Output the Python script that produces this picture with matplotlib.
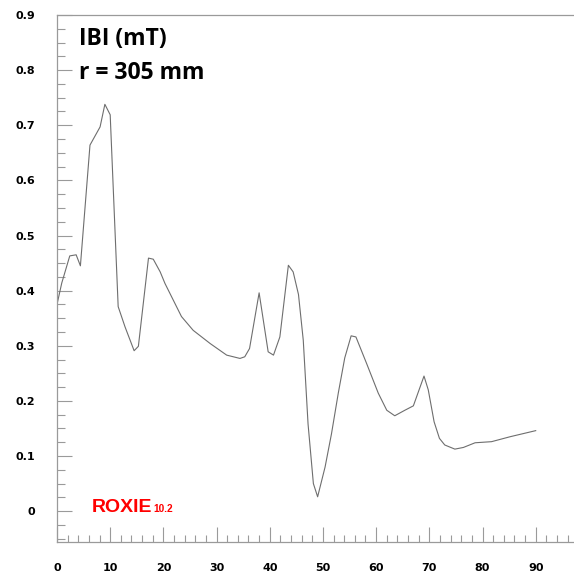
import numpy as np
import matplotlib
matplotlib.use("Agg")
import matplotlib.pyplot as plt
from matplotlib.ticker import MultipleLocator

# -----------------------------
# Data
# -----------------------------
angle = [0.0, 0.9, 2.4, 3.6, 4.4, 6.2, 8.1, 9.0, 10.0, 11.5, 12.8, 14.5, 15.3,
         17.2, 18.1, 19.4, 20.3, 23.4, 25.6, 28.8, 31.9, 34.4, 35.3, 36.2,
         38.0, 39.7, 40.7, 41.9, 43.5, 44.4, 45.4, 46.3, 47.2, 48.2, 49.0,
         50.4, 51.6, 52.9, 54.1, 55.3, 56.2, 58.2, 60.4, 62.0, 63.5, 65.4,
         67.0, 69.0, 69.8, 70.9, 71.9, 72.9, 74.8, 76.4, 78.6, 81.7, 85.2, 90.0]
ibi = [0.375, 0.414, 0.463, 0.465, 0.445, 0.664, 0.697, 0.738, 0.719, 0.371,
       0.334, 0.291, 0.299, 0.459, 0.457, 0.434, 0.413, 0.353, 0.328, 0.304,
       0.283, 0.277, 0.280, 0.295, 0.396, 0.289, 0.283, 0.316, 0.446, 0.434,
       0.393, 0.310, 0.158, 0.050, 0.026, 0.080, 0.140, 0.215, 0.278, 0.318,
       0.316, 0.268, 0.214, 0.183, 0.173, 0.183, 0.191, 0.245, 0.220, 0.162,
       0.132, 0.120, 0.1125, 0.1155, 0.124, 0.126, 0.135, 0.146]

title_lines = ["IBI (mT)", "r = 305 mm"]

# -----------------------------
# Plot
# -----------------------------
fig = plt.figure(figsize=(5.74, 5.75), dpi=100)
ax = fig.add_axes([57 / 574, 33 / 575, 1 - 57 / 574, (542 - 15) / 575])

ax.plot(angle, ibi, color="#6e6e6e", lw=0.8)

ax.set_xlim(0, 97.2)
ax.set_ylim(-0.056, 0.9)

ax.xaxis.set_major_locator(MultipleLocator(10))
ax.xaxis.set_minor_locator(MultipleLocator(2))
ax.yaxis.set_major_locator(MultipleLocator(0.1))
ax.yaxis.set_minor_locator(MultipleLocator(0.025))

axis_col = "#9a9a9a"
ax.tick_params(which="both", direction="in", color=axis_col, width=0.8,
               top=False, right=False)
ax.tick_params(which="major", length=10.8)
ax.tick_params(which="minor", length=5.4)
ax.tick_params(axis="y", which="major", pad=15.5)
ax.tick_params(axis="x", which="major", pad=15)

ax.set_xticks(np.arange(0, 100, 10))
ax.set_xticklabels([str(v) for v in range(0, 100, 10)])
ax.set_yticks(np.arange(0, 0.95, 0.1))
ax.set_yticklabels(["0"] + [f"{v:.1f}" for v in np.arange(0.1, 0.95, 0.1)])

for lbl in ax.get_xticklabels() + ax.get_yticklabels():
    lbl.set_fontfamily("DejaVu Sans")
    lbl.set_fontweight("bold")
    lbl.set_fontsize(8)

for side in ["left", "bottom", "top"]:
    ax.spines[side].set_color(axis_col)
    ax.spines[side].set_linewidth(0.9)
ax.spines["right"].set_visible(False)

# annotation text
fig.text(79 / 574, 1 - 45 / 575, title_lines[0], fontfamily="Open Sans",
         fontweight="bold", fontsize=16.5, va="baseline", ha="left")
fig.text(79 / 574, 1 - 79 / 575, title_lines[1], fontfamily="Open Sans",
         fontweight="bold", fontsize=16.5, va="baseline", ha="left")

fig.text(92 / 574, 1 - 512 / 575, "ROXIE", fontfamily="Liberation Sans",
         fontweight="bold", fontsize=14, color="red", va="baseline", ha="left")
fig.text(153 / 574, 1 - 512 / 575, "10.2", fontfamily="Liberation Sans",
         fontweight="bold", fontsize=7.3, color="red", va="baseline", ha="left")

fig.savefig("out.png", dpi=100)
